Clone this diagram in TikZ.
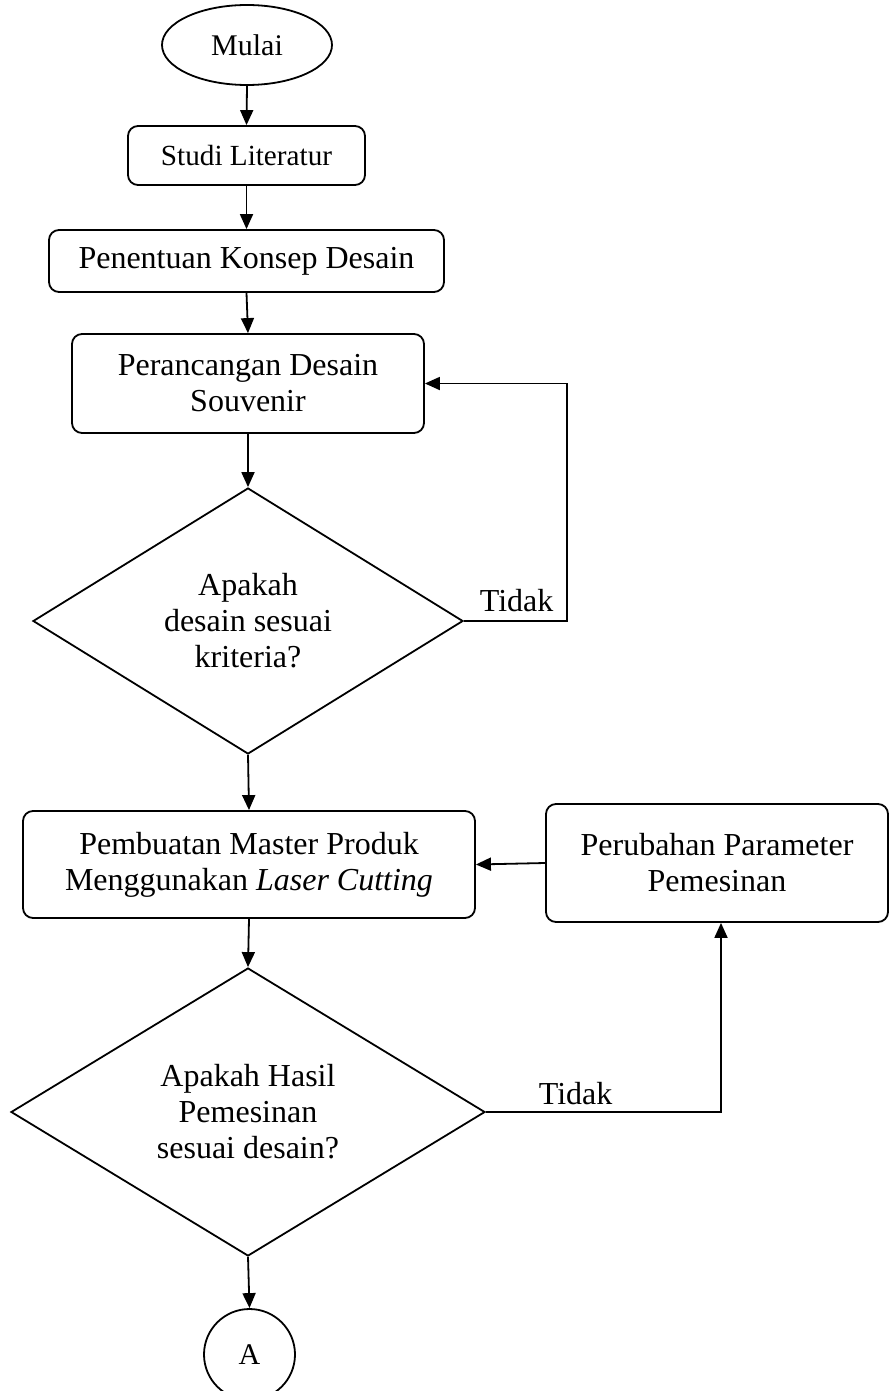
\documentclass[tikz,border=0pt]{standalone}
\usepackage{fontspec}
\setmainfont{Liberation Serif}
\usetikzlibrary{arrows.meta,shapes.geometric}
\tikzset{
  kotak/.style={draw,rounded corners=5pt,align=center,inner sep=0pt,font=\fontsize{16}{18}\selectfont},
  belah/.style={draw,diamond,align=center,inner sep=0pt,font=\fontsize{16}{18}\selectfont},
  label/.style={anchor=base west,inner sep=0pt,font=\fontsize{16}{18}\selectfont},
  panah/.style={-{Triangle[length=7.5pt,width=6.5pt]}}
}

\begin{document}
\begin{tikzpicture}[x=0.5pt,y=-0.5pt,line width=0.9pt]
\useasboundingbox (0,0) rectangle (889,1391);
\node[draw,ellipse,minimum width=85pt,minimum height=40pt,inner sep=0pt,font=\fontsize{15}{18}\selectfont] (mulai) at (247,45) {Mulai};
\node[kotak,minimum width=118.5pt,minimum height=29.5pt,font=\fontsize{14.6}{18}\selectfont] (studi) at (246.5,155.5) {Studi Literatur};
\node[kotak,minimum width=197.5pt,minimum height=31pt] (konsep) at (246.5,261) {Penentuan Konsep Desain};
\node[kotak,minimum width=176pt,minimum height=49.5pt] (rancang) at (248,383.5) {Perancangan Desain\\Souvenir};
\node[belah,aspect=1.6,minimum width=215pt,minimum height=133pt] (cek1) at (248,621) {Apakah\\desain sesuai\\kriteria?};
\node[kotak,minimum width=226pt,minimum height=53.5pt] (buat) at (249,864.5) {Pembuatan Master Produk\\Menggunakan \textit{Laser Cutting}};
\node[kotak,minimum width=171pt,minimum height=59pt] (ubah) at (717,863) {Perubahan Parameter\\Pemesinan};
\node[belah,aspect=1.65,minimum width=237pt,minimum height=144pt] (cek2) at (248,1112) {Apakah Hasil\\Pemesinan\\sesuai desain?};
\node[draw,circle,minimum size=45.5pt,inner sep=0pt,font=\fontsize{15}{18}\selectfont] (hubA) at (249.5,1354.5) {A};
\node[label] (tidak1) at (479,611) {Tidak};
\node[label] (tidak2) at (538,1104) {Tidak};
\coordinate (belok1) at (567,621);
\coordinate (belok2) at (721,1112);
\foreach \a/\b in {mulai/studi,studi/konsep,konsep/rancang,rancang/cek1,cek1/buat,buat/cek2,cek2/hubA}
  \draw[panah] (\a.south) -- (\b.north);
\draw[panah] (cek1.east) -- (belok1) |- (rancang.east);
\draw[panah] (ubah.west) -- (buat.east);
\draw[panah] (cek2.east) -- (belok2) -- (belok2 |- ubah.south);
\end{tikzpicture}
\end{document}
